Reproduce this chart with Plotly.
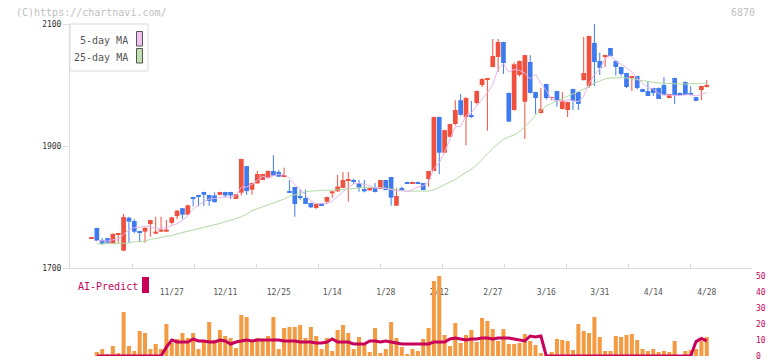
import plotly.graph_objects as go

# ---------------- data ----------------
date_labels = ["11/27", "12/11", "12/25", "1/14", "1/28", "2/12", "2/27", "3/16", "3/31", "4/14", "4/28"]
label_index = [15, 25, 35, 45, 55, 65, 75, 85, 95, 105, 115]

opens = [1748.5, 1765.6, 1746, 1749, 1739.5, 1755, 1728.4, 1782.5, 1777, 1760,
         1759.6, 1772, 1756.3, 1759.6, 1759.6, 1774, 1785, 1798, 1787.5, 1816,
         1819, 1824.6, 1819.7, 1819, 1820, 1824.6, 1824.6, 1813.3, 1823.5, 1867,
         1828.4, 1838.8, 1844.3, 1848.6, 1859, 1857.4, 1849.7, 1826.3, 1832.8, 1817.5,
         1814.8, 1806.6, 1798.4, 1805, 1808.7, 1822.4, 1825.7, 1831.2, 1843, 1844.3,
         1839.3, 1829.5, 1827.3, 1831, 1829.5, 1844.3, 1849.2, 1802.2, 1830, 1841,
         1838.8, 1841, 1839.3, 1845.9, 1859, 1947.6, 1889, 1915, 1936, 1975,
         1947.5, 1951, 1970.5, 2000, 2010, 2029.5, 2046, 2070.5, 1987, 1959,
         2016.4, 1972.6, 2037.7, 1988.5, 1954, 2001.6, 1979, 1990, 1960.7, 1959,
         1993.4, 1988.5, 2008, 1998.4, 2069, 2039.3, 2047.5, 2060.7, 2039.3, 2029.5,
         2019.7, 2012, 2014.8, 1993.4, 1990, 1995, 1995, 2000, 1978.7, 2011.5,
         1987, 2005, 1987, 1980, 1991.8, 1997]
highs = [1750, 1766, 1749, 1749.5, 1756.5, 1756.5, 1788.5, 1784, 1780, 1760.5,
         1766.5, 1779, 1784, 1784, 1778.7, 1783.5, 1795, 1798.5, 1804, 1816.5,
         1819.5, 1825, 1820, 1824, 1825, 1825, 1825, 1821.5, 1879, 1867.5,
         1840, 1859, 1854.5, 1860, 1885, 1860.7, 1864.5, 1844, 1833, 1828.4,
         1828.4, 1807, 1805.5, 1805.5, 1817, 1826, 1852.5, 1857.4, 1857.4, 1846.5,
         1844.3, 1844.3, 1831.5, 1839.3, 1844.5, 1844.5, 1849.5, 1831, 1833.4, 1841.5,
         1841.5, 1841.5, 1839.5, 1859.5, 1948, 1948, 1926.5, 1936.5, 1975, 1985,
         1980, 1974, 1991, 2011, 2011.5, 2075.4, 2075.4, 2071, 1987.5, 2037,
         2040, 2049.5, 2049, 1989, 1995, 2002, 1980.5, 1990.5, 1988.5, 1973,
         1994, 1989, 2078.7, 2081, 2100, 2053, 2049.5, 2061, 2041, 2030,
         2020, 2015, 2015, 1993.8, 2006, 1995.5, 1996, 2013, 1985.5, 2012,
         1987.5, 2005.5, 1998, 1980.5, 1999, 2008]
lows = [1748, 1744, 1738, 1741, 1739, 1741.5, 1728, 1741.5, 1757, 1743,
        1741.5, 1751, 1756, 1759, 1759, 1771, 1780, 1780, 1787, 1801,
        1801, 1802, 1802, 1807, 1819, 1816, 1813, 1813, 1819, 1820,
        1820, 1838, 1844, 1848, 1851, 1849, 1849, 1824, 1784, 1811,
        1805, 1798, 1797, 1802, 1805, 1815, 1825, 1831, 1808.7, 1837.7,
        1825, 1824, 1827, 1824, 1829, 1827.5, 1802.2, 1802, 1827.5, 1838.5,
        1838.5, 1838.5, 1827.5, 1833.4, 1858.5, 1854, 1888, 1914, 1934, 1950,
        1901, 1946, 1968, 1996.5, 1925, 2029, 2021.3, 2018, 1939.5, 1958,
        2014, 1911.5, 1986, 1952.5, 1953.5, 1976, 1975, 1964.4, 1960, 1947.5,
        1959, 1959, 2007.5, 1995, 1998.4, 2016.4, 2029.5, 2047, 2015.6, 2015,
        1995, 1990, 1993, 1988, 1982, 1982, 1977, 1983, 1978.5, 1969,
        1983.5, 1983.5, 1983, 1973.5, 1975.4, 1996]
closes = [1749, 1744.8, 1739.5, 1741.5, 1756, 1756, 1783.6, 1776, 1759.6, 1759,
          1766, 1778.7, 1759.6, 1763, 1763, 1783, 1794, 1787.5, 1802.7, 1815,
          1817, 1820, 1810, 1808, 1824.6, 1819, 1819, 1821, 1878.7, 1826,
          1839.3, 1854, 1854.1, 1859, 1851.4, 1849.7, 1852.5, 1824, 1804.9, 1815.3,
          1805, 1799.5, 1805, 1802.2, 1816.4, 1825.7, 1833.4, 1844.3, 1844.3, 1842,
          1831.7, 1825.7, 1831, 1824.6, 1844.3, 1827.9, 1815.3, 1818, 1828, 1838.8,
          1841, 1838.8, 1827.9, 1859, 1947.6, 1889, 1926, 1936, 1959, 1951,
          1978.7, 1947.5, 1990, 2009.8, 2011, 2047.5, 2070.5, 2036, 1940, 2034,
          2039.3, 2049, 1987, 1978.7, 1960.7, 1978.7, 1980, 1974, 1973.8, 1972,
          1973.8, 1969, 2019.7, 2080.3, 2037.7, 2028, 2049, 2047.5, 2029.5, 2018,
          1996.7, 2014.8, 1995, 1988.5, 1982, 1987, 1977, 1983.6, 1985.2, 1983.6,
          1984, 1983.6, 1984, 1974, 1998.4, 1998.4]

ma5 = [None, 1745, 1744, 1744, 1746.2, 1747.6, 1755.3, 1762.6, 1766.2, 1766.8,
       1768.8, 1767.9, 1764.6, 1765.3, 1766.1, 1769.5, 1772.5, 1778.1, 1786.0, 1796.4,
       1803.2, 1808.4, 1812.9, 1814.0, 1815.9, 1816.3, 1816.1, 1818.3, 1832.5, 1832.7,
       1836.8, 1843.8, 1850.4, 1846.5, 1851.6, 1853.6, 1853.3, 1847.3, 1836.5, 1829.3,
       1820.3, 1809.7, 1805.9, 1805.4, 1805.6, 1809.8, 1816.5, 1824.4, 1832.8, 1837.9,
       1839.1, 1837.6, 1834.9, 1831.0, 1831.5, 1830.7, 1828.6, 1826.0, 1826.7, 1825.6,
       1828.2, 1832.9, 1834.9, 1841.1, 1862.9, 1872.5, 1889.9, 1911.5, 1931.5, 1932.2,
       1950.1, 1954.4, 1965.2, 1975.4, 1987.4, 2001.2, 2025.8, 2035.0, 2021.0, 2025.6,
       2024.0, 2019.7, 2009.9, 2017.6, 2002.9, 1990.8, 1977.0, 1974.4, 1973.4, 1975.7,
       1974.7, 1972.5, 1981.7, 2003.0, 2016.1, 2026.9, 2042.9, 2048.5, 2038.3, 2034.4,
       2028.1, 2021.3, 2010.8, 2002.6, 1995.4, 1993.5, 1985.9, 1983.6, 1983.0, 1983.3,
       1982.7, 1984.0, 1984.1, 1981.8, 1984.8, 1987.7]
ma25 = [None, 1739.5, 1739.5, 1739.5, 1740, 1740, 1740.5, 1741, 1743, 1743,
        1744, 1747, 1748, 1750, 1752, 1753, 1756, 1758, 1760, 1762,
        1764, 1766, 1768, 1770, 1773, 1776, 1778, 1781, 1784, 1788,
        1794, 1797, 1800.6, 1803, 1806, 1809, 1813, 1817.5, 1820, 1823,
        1825, 1826, 1827, 1827, 1827.5, 1827.5, 1828, 1828.5, 1829.5, 1830.6,
        1831.7, 1832, 1832, 1832, 1831.7, 1830.6, 1829, 1827.5, 1827, 1826,
        1826, 1826, 1826, 1826, 1828, 1832, 1836, 1840, 1845, 1851,
        1856, 1862, 1869, 1878, 1888, 1896, 1904, 1911, 1915, 1918,
        1923.5, 1931.7, 1940, 1951, 1959, 1965.6, 1970, 1974, 1977, 1981,
        1985, 1989, 1993, 1997, 2003, 2006.6, 2010, 2011.5, 2012, 2012,
        2011.5, 2010, 2008, 2006.6, 2005.5, 2004.4, 2003.3, 2002.7, 2002.2, 2001.6,
        2001.6, 2001.6, 2001.6, 2002.2, 2002.7, 2003.3]

volume = [0, 4, 7, 2, 10, 3, 44, 10, 5, 25,
          23, 7, 12, 7, 32, 13, 17, 23, 18, 23,
          7, 16, 34, 16, 26, 20, 18, 8, 41, 39,
          16, 18, 15, 20, 39, 7, 28, 29, 29, 31,
          18, 29, 20, 7, 18, 5, 26, 31, 23, 7,
          19, 11, 4, 28, 3, 7, 34, 18, 9, 2,
          7, 5, 17, 28, 75, 80, 21, 10, 33, 13,
          21, 26, 14, 38, 35, 27, 15, 27, 12, 12,
          13, 22, 15, 11, 3, 1, 4, 17, 16, 15,
          6, 32, 25, 23, 39, 19, 5, 5, 20, 19,
          21, 22, 16, 7, 5, 7, 4, 5, 4, 15,
          0, 5, 6, 7, 15, 19]

ai_predict = [None, 0, 0, 0, 0, 0, 0, 0, 0, 0,
              0, 0, 0, 0, 5.5, 10, 8.75, 8.75, 8.75, 10.6,
              9.4, 9.4, 8.75, 8.75, 10, 9.4, 7.5, 8.75, 9.4, 10,
              9.4, 10, 10, 10, 10, 10, 9.4, 9.4, 9.4, 8.75,
              8.75, 8.75, 8.1, 8.1, 8.75, 10.6, 8.75, 8.75, 8.75, 7.5,
              7.5, 7.5, 9.4, 9.4, 8.75, 9.4, 8.75, 8.1, 7.5, 7.5,
              7.5, 7.5, 7.5, 7.5, 8.75, 8.75, 8.75, 10.6, 11.25, 10.6,
              10, 10.6, 10.6, 11.25, 11.25, 10.6, 11.25, 11.25, 11.25, 10.6,
              10, 9.4, 12.5, 11.9, 12.5, 0, 0, 0, 0, 0,
              0, 0, 0, 0, 0, 0, 0, 0, 0, 0,
              0, 0, 0, 0, 0, 0, 0, 0, 0, 0,
              0, 0, 0, 9, 11, 9.4]

ai_ticks = [0, 10, 20, 30, 40, 50]
price_ticks = [1700, 1900, 2100]

# ---------------- styling ----------------
RED = "#f0513f"
BLUE = "#3f7bef"
ORANGE = "#f39a42"
AI_C = "#c8005a"
PINK = "#e6b4ec"
GREEN = "#b3d9a3"
AXIS = "#dcdcdc"
MONO = "DejaVu Sans Mono"

W, H = 772, 361
ML, MR, MT, MB = 70, 20, 24, 5
PW, PH = W - ML - MR, H - MT - MB
STEP = 5.35          # pixels per trading day
FIRST_X = 91.5       # pixel of first candle
X0 = -(FIRST_X - ML) / STEP
X1 = (W - MR - FIRST_X) / STEP


def pxx(x):
    return (x - ML) / PW


def pxy(y):
    return (H - MB - y) / PH


n = len(closes)
idx = list(range(n))
up = [i for i in idx if closes[i] >= opens[i]]
dn = [i for i in idx if closes[i] < opens[i]]

fig = go.Figure()


def add_candles(ids, color):
    wx, wy = [], []
    for i in ids:
        wx += [i, i, None]
        wy += [lows[i], highs[i], None]
    fig.add_trace(go.Scatter(x=wx, y=wy, mode="lines", line=dict(color=color, width=1),
                             hoverinfo="skip", xaxis="x", yaxis="y"))
    base, hgt = [], []
    for i in ids:
        lo, hi = min(opens[i], closes[i]), max(opens[i], closes[i])
        h = max(hi - lo, 1.6)
        base.append(lo - (h - (hi - lo)) / 2)
        hgt.append(h)
    fig.add_trace(go.Bar(x=ids, y=hgt, base=base, width=0.88, marker=dict(color=color, line=dict(width=0)),
                         xaxis="x", yaxis="y"))


add_candles(up, RED)
add_candles(dn, BLUE)

fig.add_trace(go.Scatter(x=idx, y=ma25, mode="lines", line=dict(color=GREEN, width=1),
                         xaxis="x", yaxis="y"))
fig.add_trace(go.Scatter(x=idx, y=ma5, mode="lines", line=dict(color=PINK, width=1),
                         xaxis="x", yaxis="y"))

fig.add_trace(go.Bar(x=idx, y=volume, width=0.75, marker=dict(color=ORANGE, line=dict(width=0)),
                     xaxis="x2", yaxis="y2"))
fig.add_trace(go.Scatter(x=idx, y=ai_predict, mode="lines", line=dict(color=AI_C, width=3),
                         xaxis="x2", yaxis="y3"))

tick_marks = [X0 + k * (X1 - X0) / 11 for k in range(12)]

fig.update_layout(
    width=W, height=H,
    margin=dict(l=ML, r=MR, t=MT, b=MB, autoexpand=False),
    paper_bgcolor="white", plot_bgcolor="white",
    showlegend=False, barmode="overlay",
    font=dict(family=MONO, size=8, color="#333"),
    xaxis=dict(domain=[0, 1], anchor="y", range=[X0, X1], showgrid=False, zeroline=False,
               showline=True, linecolor=AXIS, linewidth=1, ticks="inside", ticklen=4,
               tickcolor=AXIS, tickvals=tick_marks, showticklabels=False, automargin=False,
               rangeslider=dict(visible=False)),
    yaxis=dict(domain=[pxy(268), 1], anchor="x", range=[1700, 2100], showgrid=False, zeroline=False,
               showline=True, linecolor=AXIS, linewidth=1, ticks="outside", ticklen=6,
               tickcolor=AXIS, tickvals=price_ticks, automargin=False, ticklabeloverflow="allow",
               tickfont=dict(family=MONO, size=8, color="#333")),
    xaxis2=dict(domain=[0, 1], anchor="y2", range=[X0, X1], showgrid=False, zeroline=False,
                showline=False, ticks="", side="top", ticklabelposition="inside",
                tickvals=label_index, ticktext=date_labels, layer="below traces",
                ticklabelstandoff=10, automargin=False, ticklabeloverflow="allow",
                tickfont=dict(family=MONO, size=8, color="#555")),
    yaxis2=dict(domain=[0, pxy(276)], anchor="x2", range=[0, 80], visible=False),
    yaxis3=dict(overlaying="y2", anchor="x2", side="right", range=[0, 50], showgrid=False,
                zeroline=False, showline=False, ticks="", tickvals=ai_ticks, automargin=False,
                ticklabeloverflow="allow", ticklabelstandoff=3,
                tickfont=dict(family=MONO, size=8, color=AI_C)),
)

# legend boxes / swatches (drawn as layout shapes in pixel positions)
shapes = [
    dict(type="rect", xref="paper", yref="paper", x0=pxx(70), x1=pxx(148), y0=pxy(71), y1=pxy(24),
         line=dict(color=AXIS, width=1), fillcolor="white", layer="above"),
    dict(type="rect", xref="paper", yref="paper", x0=pxx(136.5), x1=pxx(142.5), y0=pxy(46), y1=pxy(31.5),
         line=dict(color="#555", width=1), fillcolor="#f0c0f0", layer="above"),
    dict(type="rect", xref="paper", yref="paper", x0=pxx(136.5), x1=pxx(142.5), y0=pxy(63), y1=pxy(48.5),
         line=dict(color="#555", width=1), fillcolor="#c0e0b0", layer="above"),
    dict(type="rect", xref="paper", yref="paper", x0=pxx(142), x1=pxx(149), y0=pxy(293), y1=pxy(277),
         line=dict(width=0), fillcolor=AI_C, layer="above"),
]
fig.update_layout(shapes=shapes)

ann = [
    dict(text="(C)https://chartnavi.com/", x=pxx(14), y=pxy(12.5), xanchor="left", yanchor="middle",
         font=dict(family=MONO, size=10, color="#c0c0c0")),
    dict(text="6870", x=pxx(757), y=pxy(12.5), xanchor="right", yanchor="middle",
         font=dict(family=MONO, size=10, color="#c0c0c0")),
    dict(text="5-day MA", x=pxx(130), y=pxy(41), xanchor="right", yanchor="middle",
         font=dict(family=MONO, size=10, color="#555")),
    dict(text="25-day MA", x=pxx(130), y=pxy(57), xanchor="right", yanchor="middle",
         font=dict(family=MONO, size=10, color="#555")),
    dict(text="AI-Predict", x=pxx(76), y=pxy(286.5), xanchor="left", yanchor="middle",
         font=dict(family=MONO, size=10, color=AI_C)),
]
for a in ann:
    a.update(xref="paper", yref="paper", showarrow=False)
fig.update_layout(annotations=ann)

fig.write_html("out.html", config={"displayModeBar": False},
               post_script="document.body.style.margin='0px';")
